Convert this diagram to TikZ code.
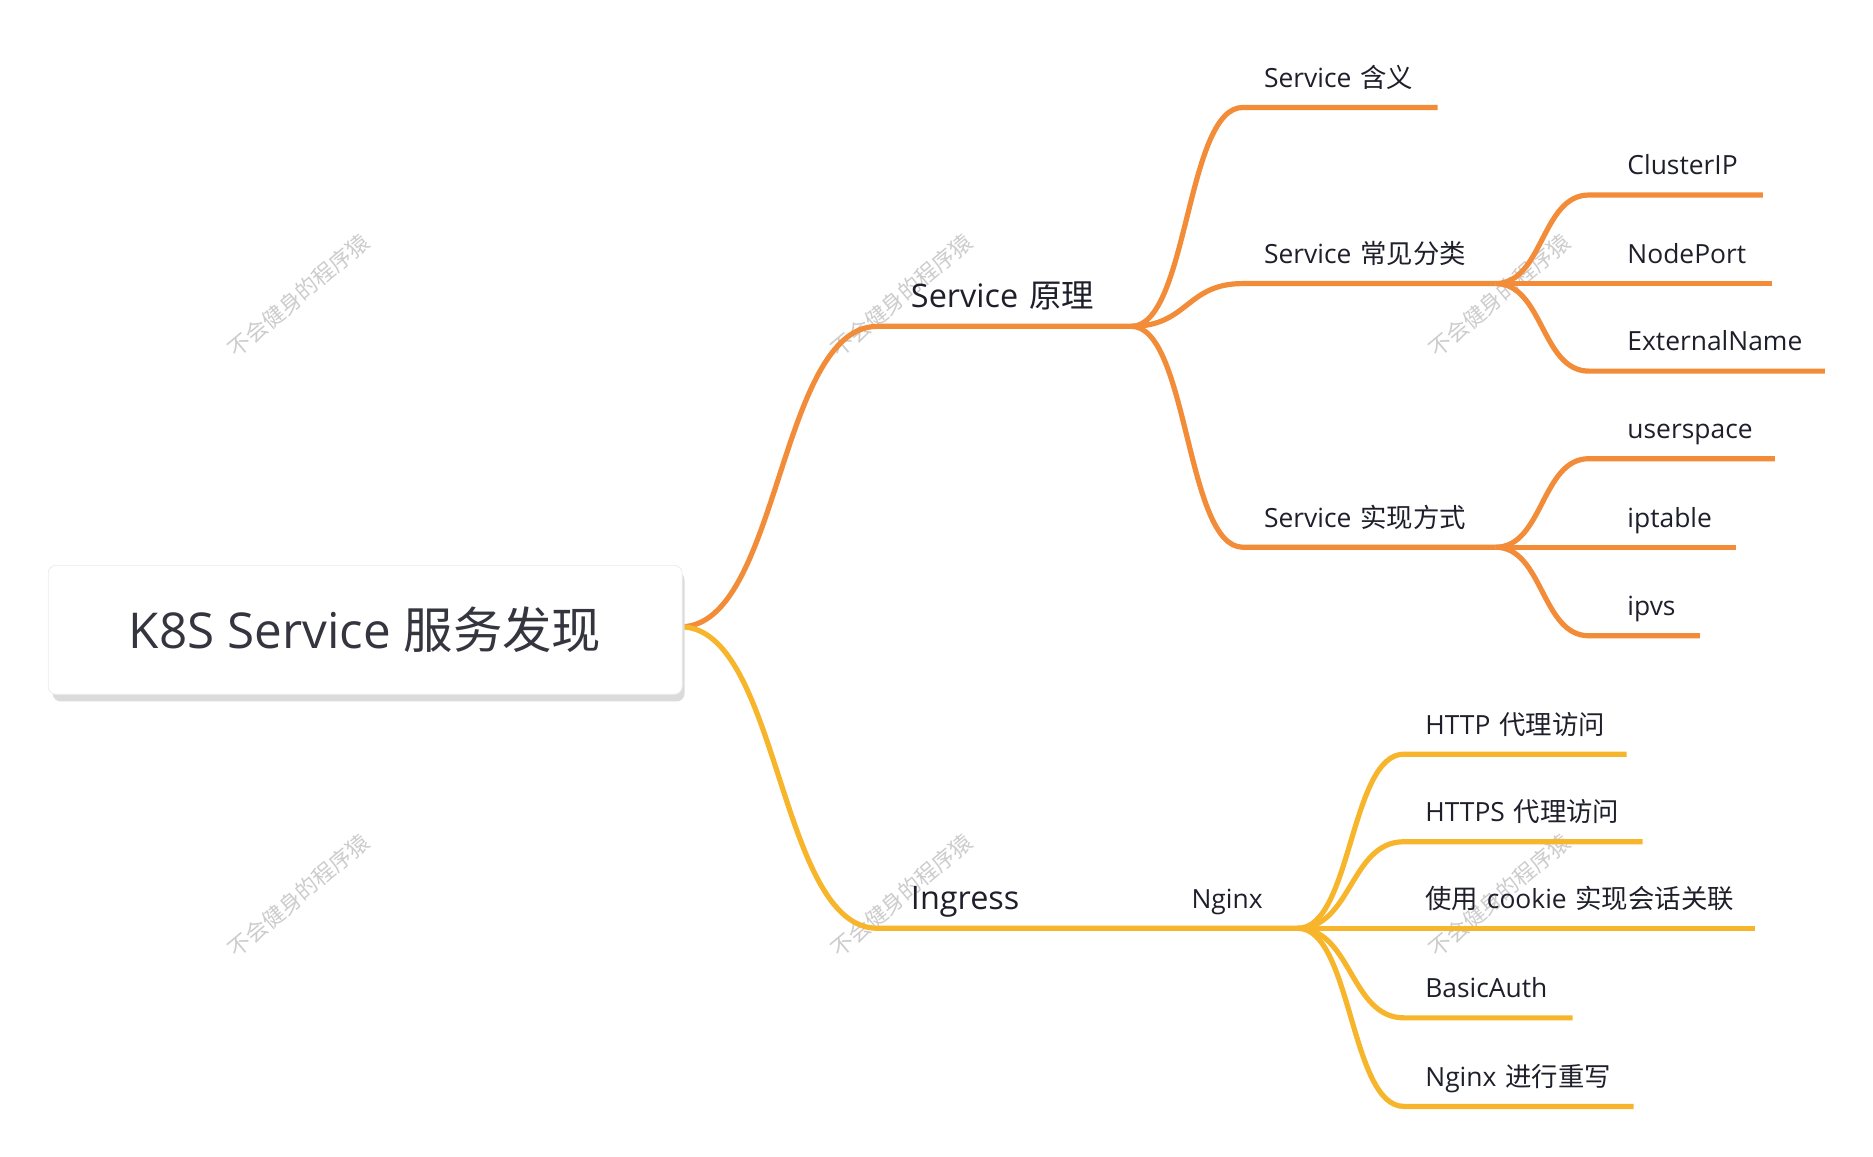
\documentclass[tikz,border=0pt]{standalone}
\usepackage{fontspec}
\setmainfont{Open Sans}
\newfontfamily\cjk{Noto Sans CJK SC}
\definecolor{branchA}{HTML}{F28C38}
\definecolor{branchB}{HTML}{F7B52C}
\definecolor{inkdark}{HTML}{1F1F2B}
\tikzset{
  topic/.style={anchor=south west, inner xsep=10.5pt, inner ysep=7.4pt, text height=0.85em, text depth=0.25em,
    align=left, font=\fontsize{13.2}{16}\selectfont, text=inkdark},
  major/.style={topic, inner xsep=16.5pt, inner ysep=6.5pt, font=\fontsize{16.2}{20}\selectfont},
  leaf/.style={topic, inner xsep=19pt},
  rootbox/.style={draw=gray!15, fill=white, rounded corners=4pt, minimum width=317pt, minimum height=64.5pt,
    font=\fontsize{24.7}{30}\selectfont, text=inkdark!90},
  wmark/.style={rotate=40, text=gray!40, font=\cjk\fontsize{11}{13}\selectfont},
}

\begin{document}
\begin{tikzpicture}[x=0.5pt, y=-0.5pt]
\useasboundingbox (0,0) rectangle (1873,1156);
\begin{scope}[scale=0.995]
% watermarks
\foreach \wx in {300,906,1507}
  \foreach \wy in {297,900}
    \node[wmark] (wm-\wx-\wy) at (\wx,\wy) {不会健身的程序猿};

% topics
\node[major, text width=93.5pt] (svc) at (882,328) {Service {\cjk 原理}};
\node[major, text width=114pt] (ing) at (882,933) {Ingress};
\node[topic, text width=42.5pt] (ngx) at (1176,933) {Nginx};

\node[topic, text width=76pt] (mean) at (1249,108) {Service {\cjk 含义}};
\node[topic, text width=105pt] (kind) at (1249,285) {Service {\cjk 常见分类}};
\node[topic, text width=105pt] (impl) at (1249,550) {Service {\cjk 实现方式}};

\node[leaf, text width=48.5pt] (cip) at (1597,196) {\mbox{ClusterIP}};
\node[leaf, text width=53pt] (nport) at (1597,285) {\mbox{NodePort}};
\node[leaf, text width=79.5pt] (ename) at (1597,373) {\mbox{ExternalName}};
\node[leaf, text width=54.5pt] (uspace) at (1597,461) {\mbox{userspace}};
\node[leaf, text width=35pt] (iptab) at (1597,550) {\mbox{iptable}};
\node[leaf, text width=17pt] (ipvs) at (1597,639) {\mbox{ipvs}};

\node[topic, text width=90pt] (http) at (1411,758) {\mbox{HTTP {\cjk 代理访问}}};
\node[topic, text width=98pt] (https) at (1411,846) {\mbox{HTTPS {\cjk 代理访问}}};
\node[topic, text width=154pt] (cookie) at (1411,933) {\mbox{{\cjk 使用} cookie {\cjk 实现会话关联}}};
\node[topic, text width=63pt] (bauth) at (1411,1023) {BasicAuth};
\node[topic, text width=93.5pt] (rewrite) at (1411,1112) {\mbox{Nginx {\cjk 进行重写}}};

% branches
\coordinate (r) at (684,630);
\begin{scope}[draw=branchA, line width=2.6pt]
\draw (r) .. controls +(100,0) and +(-100,0) .. (svc.south west) -- (svc.south east);
\foreach \c in {mean,kind,impl}
  \draw (svc.south east) .. controls +(57,0) and +(-57,0) .. (\c.south west) -- (\c.south east);
\foreach \c in {cip,nport,ename}
  \draw (kind.south east) .. controls +(48,0) and +(-48,0) .. (\c.south west) -- (\c.south east);
\foreach \c in {uspace,iptab,ipvs}
  \draw (impl.south east) .. controls +(48,0) and +(-48,0) .. (\c.south west) -- (\c.south east);
\end{scope}
\begin{scope}[draw=branchB, line width=2.6pt]
\draw (r) .. controls +(100,0) and +(-100,0) .. (ing.south west) -- (ing.south east) -- (ngx.south east);
\foreach \c in {http,https,cookie,bauth,rewrite}
  \draw (ngx.south east) .. controls +(54,0) and +(-54,0) .. (\c.south west) -- (\c.south east);
\end{scope}

% root
\fill[gray!28, rounded corners=4pt] (53,575) rectangle (688,705);
\node[rootbox] (k8s) at (367,633) {K8S Service {\cjk 服务发现}};
\end{scope}
\end{tikzpicture}
\end{document}
